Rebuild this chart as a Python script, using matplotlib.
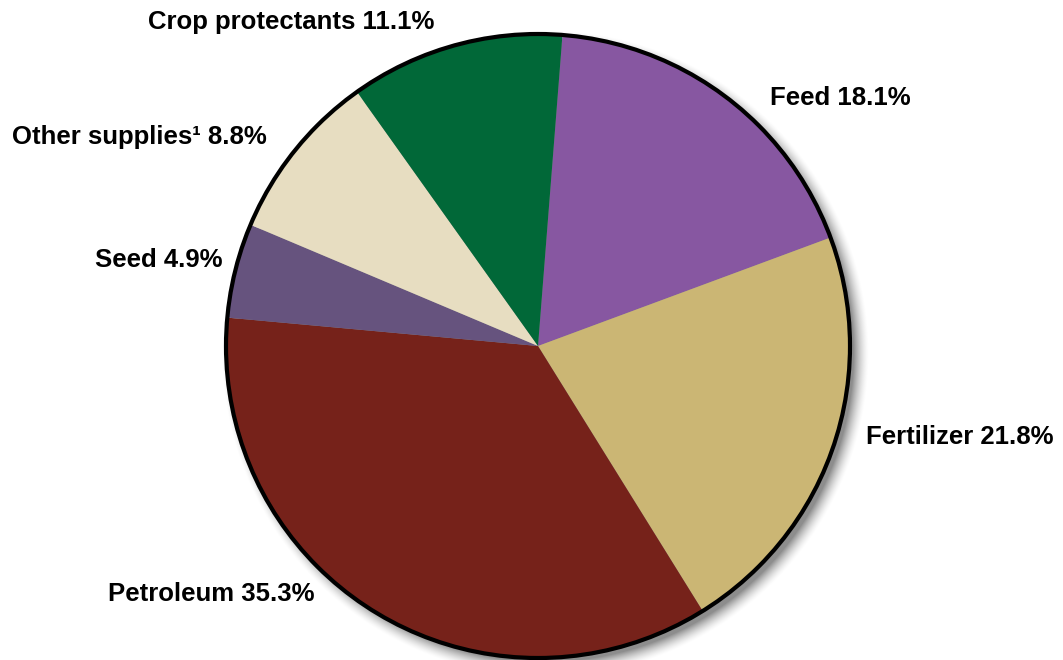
import numpy as np
import matplotlib
matplotlib.use("Agg")
import matplotlib.pyplot as plt
from matplotlib.patches import Circle

categories = ["Feed", "Fertilizer", "Petroleum", "Seed", "Other supplies\u00b9", "Crop protectants"]
shares = [18.1, 21.8, 35.3, 4.9, 8.8, 11.1]
colors = ["#8757A1", "#CBB674", "#76221A", "#66537E", "#E7DDC1", "#016838"]
labels = [f"{c} {v}%" for c, v in zip(categories, shares)]

W, H = 1063, 660
fig = plt.figure(figsize=(W / 100, H / 100), dpi=100)
ax = fig.add_axes([0, 0, 1, 1])

cx, cy, r = 538, H - 346, 312

# soft shadow
yy, xx = np.mgrid[0:H, 0:W]
d = np.hypot(xx - (cx + 7), (H - yy) - (cy - 7)) - r
alpha = np.clip(1 - (d + 4) / 16, 0, 1) ** 1.6 * 0.45
shadow = np.zeros((H, W, 4))
shadow[..., 3] = alpha
ax.imshow(shadow, extent=(0, W, 0, H), origin="upper", zorder=0, interpolation="bilinear")

ax.pie(shares, colors=colors, startangle=85.5, counterclock=False,
       center=(cx, cy), radius=r, wedgeprops=dict(linewidth=0, zorder=2))
ax.add_patch(Circle((cx, cy), r, facecolor="none", edgecolor="black", linewidth=3.0, zorder=3))

label_pos = [(770, 98, "left"), (866, 437, "left"), (108, 594, "left"),
             (95, 260, "left"), (12, 137, "left"), (148, 22, "left")]
for lab, (x, y, ha) in zip(labels, label_pos):
    ax.text(x, H - y, lab, ha=ha, va="center", fontsize=18.5, fontweight="bold",
            family=["Liberation Sans", "DejaVu Sans"], color="black", zorder=4)

ax.set_xlim(0, W)
ax.set_ylim(0, H)
ax.set_aspect("equal")
ax.axis("off")
fig.savefig("out.png", dpi=100)
